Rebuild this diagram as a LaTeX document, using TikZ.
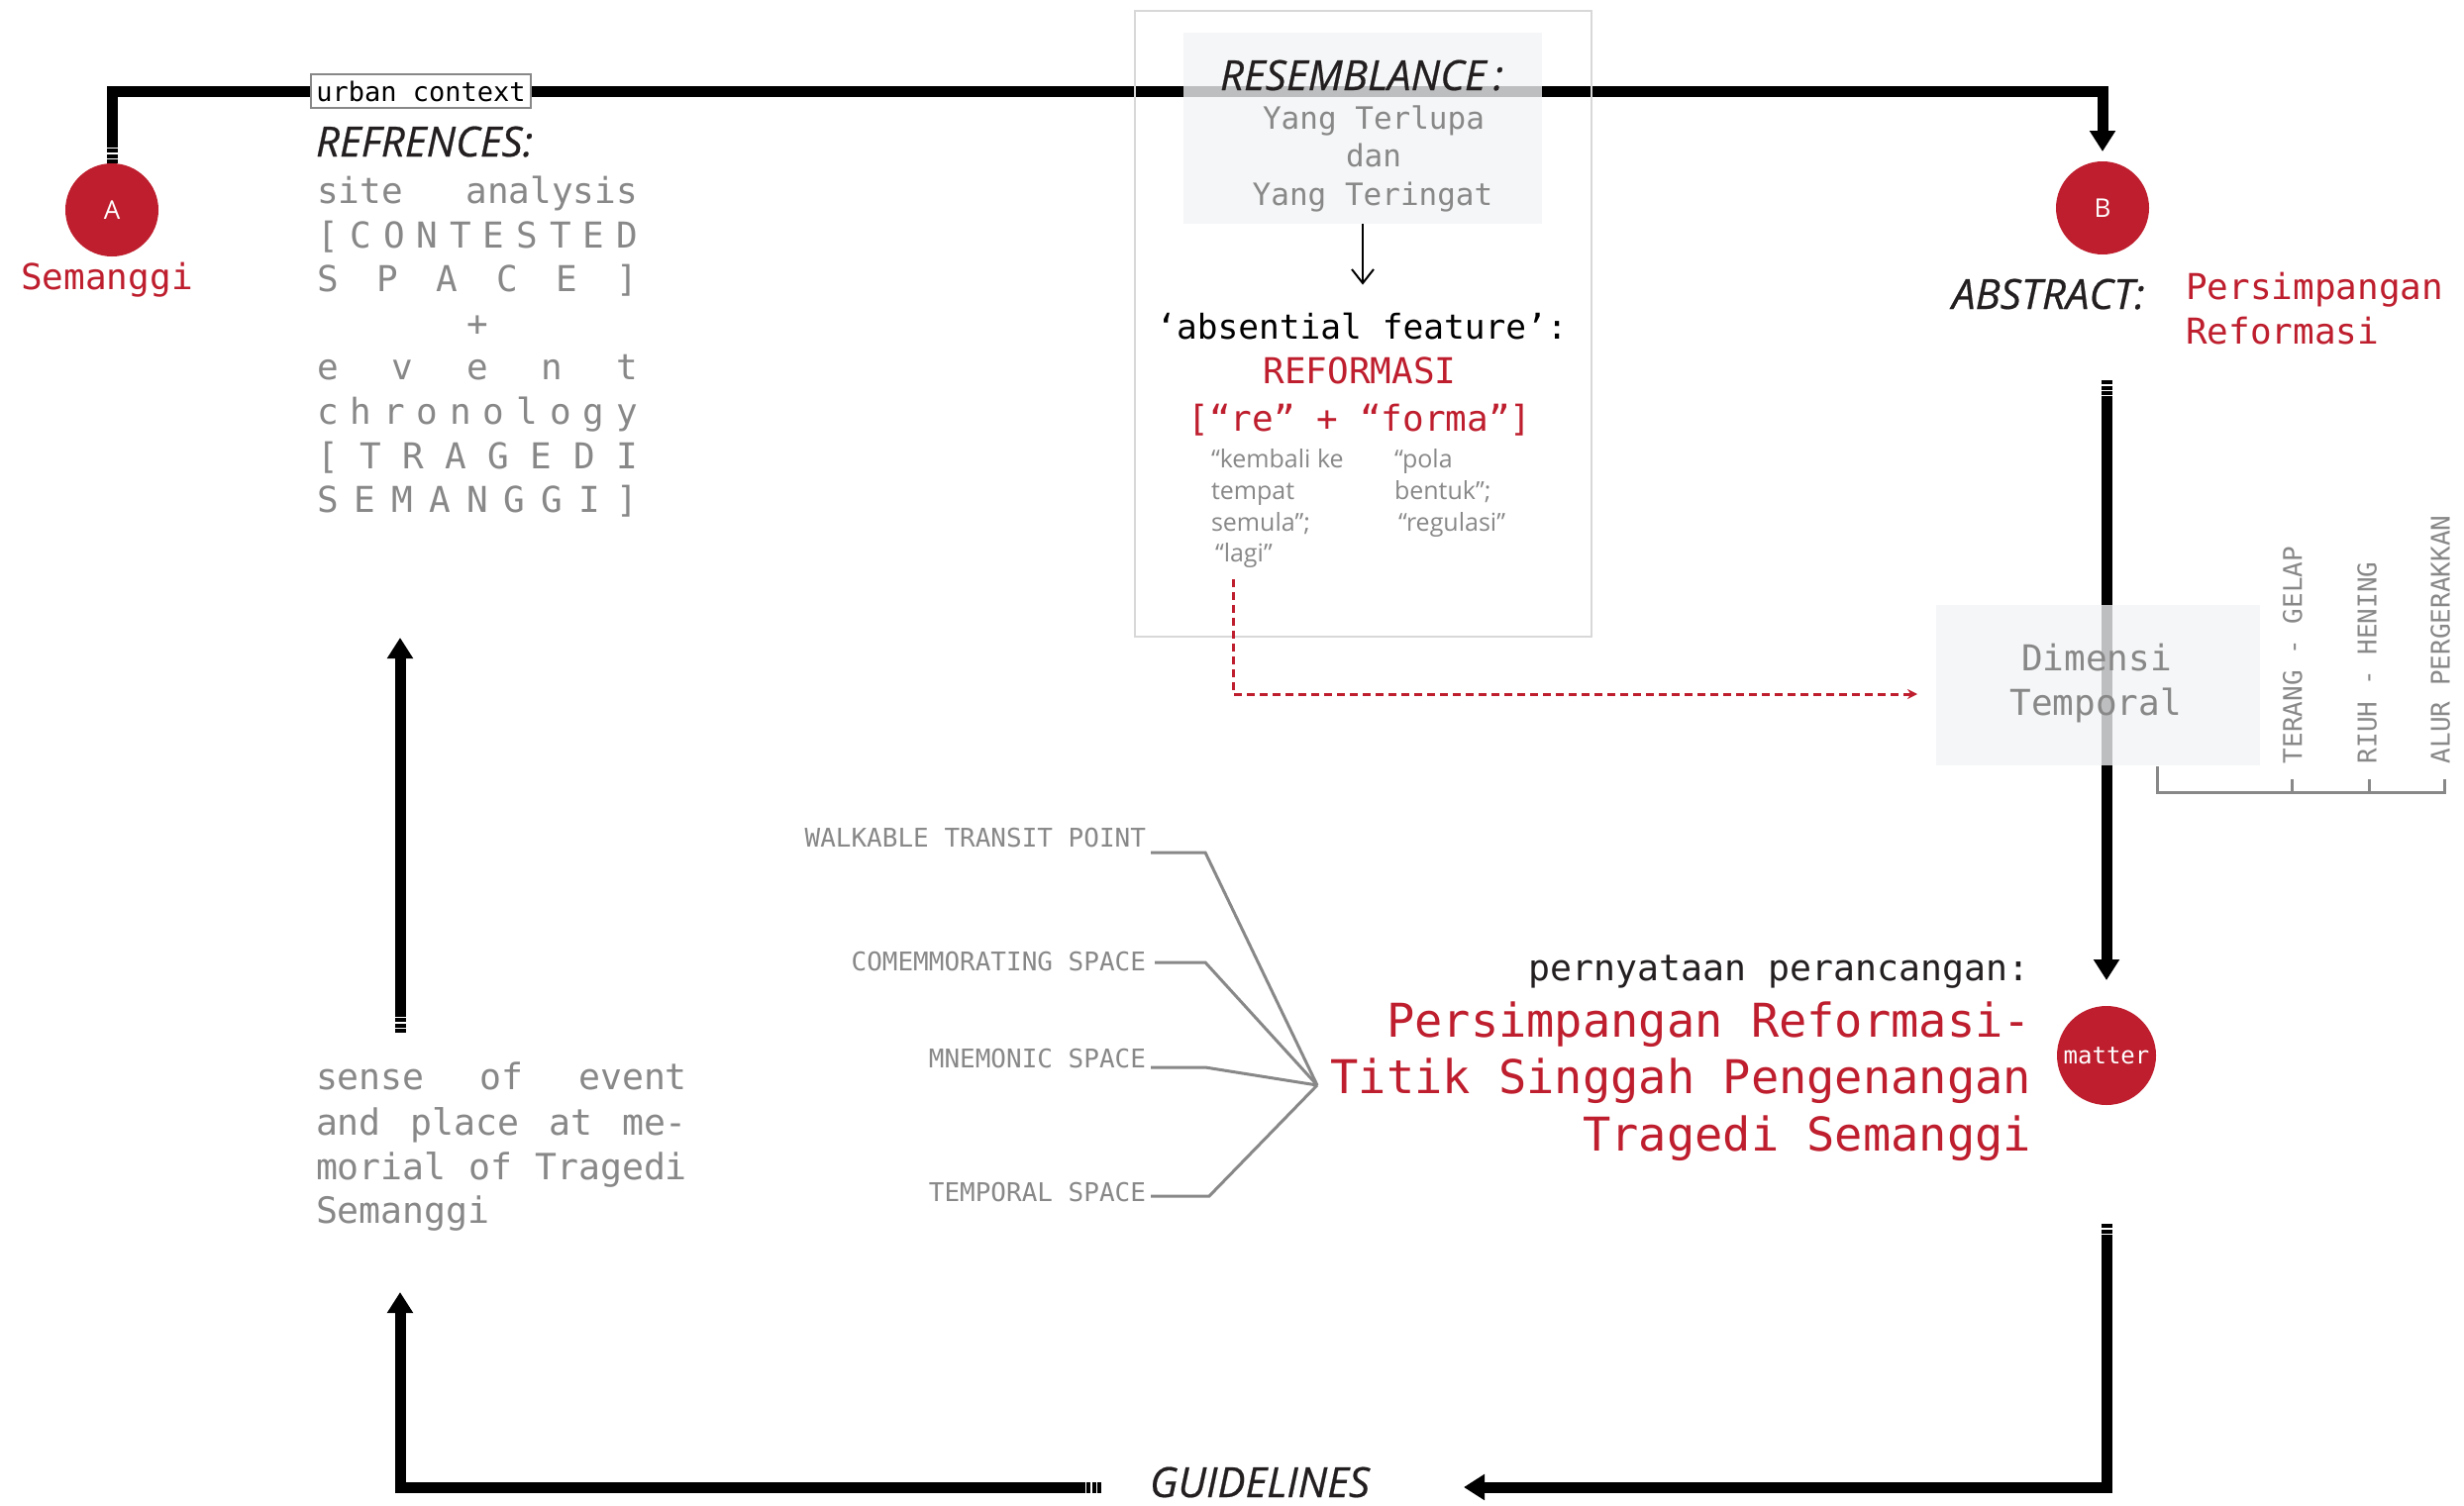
\documentclass[tikz,border=0pt]{standalone}
\usepackage{fontspec}
\setmainfont{Open Sans}
\setmonofont{DejaVu Sans Mono}
\newfontfamily\hdfont[FakeBold=0.5]{Open Sans}
\usetikzlibrary{arrows.meta}
\definecolor{cred}{RGB}{190,30,45}
\definecolor{tgray}{RGB}{136,136,136}
\definecolor{boxfill}{RGB}{243,244,245}
\definecolor{boxline}{RGB}{216,216,216}
\definecolor{dark}{RGB}{35,31,32}
\newcommand{\fsz}[1]{\fontsize{#1}{#1}\selectfont}
\begin{document}
\begin{tikzpicture}[x=1pt,y=-1pt,
  every node/.style={inner sep=0pt, outer sep=0pt},
  monotxt/.style={font=\ttfamily\fsz{36}, text=dark},
  graytxt/.style={font=\ttfamily\fsz{36}, text=tgray},
  redtxt/.style={font=\ttfamily\fsz{36}, text=cred},
  hdtxt/.style={font=\hdfont\itshape\fsz{42}, text=dark},
  smalltxt/.style={font=\fsz{25}, text=tgray, anchor=base west},
  fanlab/.style={font=\ttfamily\fsz{26}, text=tgray, anchor=base east},
  rotlab/.style={font=\ttfamily\fsz{26}, text=tgray, rotate=90, anchor=west},
  bigline/.style={line width=11pt, draw=black},
  stripeln/.style={line width=11pt, draw=black, dash pattern=on 4pt off 1.5pt},
  bigarrow/.style={-{Triangle[length=21pt,width=25pt]}},
  circmark/.style={circle, fill=cred, minimum size=94pt, text=white, font=\fsz{26}},
  fanline/.style={line width=3pt, draw=tgray},
  reddash/.style={line width=3pt, draw=cred, dash pattern=on 8pt off 5pt, -{Stealth[length=10pt,width=10pt]}},
  shadebox/.style={fill=boxfill, fill opacity=0.78, anchor=north west},
]
\fill[white] (0,0) rectangle (2488,1520);
\useasboundingbox (0,0) rectangle (2488,1520);

% ---- markers
\node[circmark] (A) at (113,212) {A};
\node[circmark] (B) at (2123,210) {B};
\node[circmark, minimum size=100pt, font=\ttfamily\fsz{24}] (M) at (2127,1066) {matter};

% ---- main thick connectors
\coordinate (aS) at (113,147);
\coordinate (tl) at (113,92);
\coordinate (tr) at (2123,92);
\draw[stripeln] (A.north) -- (aS);
\draw[bigline, bigarrow, shorten >=10pt] (aS) -- (tl) -- (tr) -- (B.north);

\coordinate (bS) at (2127,384);
\coordinate (bT) at (2127,400);
\draw[stripeln] (bS) -- (bT);
\draw[bigline, bigarrow, shorten >=26pt] (bT) -- (bT |- M.north);

\coordinate (mS) at (2127,1236);
\coordinate (mT) at (2127,1250);
\coordinate (gR) at (1478,1502);
\draw[stripeln] (mS) -- (mT);
\draw[bigline, bigarrow] (mT) |- (gR);

\coordinate (gL) at (1112,1502);
\coordinate (gLs) at (1096,1502);
\coordinate (sB) at (404,1305);
\draw[stripeln] (gL) -- (gLs);
\draw[bigline, bigarrow] (gLs) -| (sB);

\coordinate (sS) at (404,1043);
\coordinate (sT) at (404,1025);
\coordinate (rB) at (404,644);
\draw[stripeln] (sS) -- (sT);
\draw[bigline, bigarrow] (sT) -- (rB);

% ---- boxes
\node[shadebox, minimum width=362pt, minimum height=193pt] (resin) at (1195,33) {};
\node[draw=boxline, line width=2pt, minimum width=461pt, minimum height=632pt, anchor=north west] (resout) at (1146,11) {};
\node[shadebox, minimum width=327pt, minimum height=162pt] (dimbox) at (1955,611) {};

% ---- left column
\node[font=\ttfamily\fsz{27}, text=black, draw=tgray, line width=2pt, fill=white, inner xsep=5pt, minimum height=34pt] (urban) at (425,92) {urban context};
\node[redtxt, anchor=base] (sem) at (108,292) {Semanggi};
\node[hdtxt, anchor=base west] (refs) at (319,158) {REFRENCES:};
\node[graytxt, anchor=base west] (r1) at (320,205) {\hbox to 324pt{site\hfill analysis}};
\node[graytxt, anchor=base west] (r2) at (320,250) {\hbox to 324pt{[\hfill C\hfill O\hfill N\hfill T\hfill E\hfill S\hfill T\hfill E\hfill D}};
\node[graytxt, anchor=base west] (r3) at (320,294) {\hbox to 324pt{S\hfill P\hfill A\hfill C\hfill E\hfill ]}};
\node[graytxt, anchor=base] (r4) at (482,339) {+};
\node[graytxt, anchor=base west] (r5) at (320,383) {\hbox to 324pt{e\hfill v\hfill e\hfill n\hfill t}};
\node[graytxt, anchor=base west] (r6) at (320,428) {\hbox to 324pt{c\hfill h\hfill r\hfill o\hfill n\hfill o\hfill l\hfill o\hfill g\hfill y}};
\node[graytxt, anchor=base west] (r7) at (320,473) {\hbox to 324pt{[\hfill T\hfill R\hfill A\hfill G\hfill E\hfill D\hfill I}};
\node[graytxt, anchor=base west] (r8) at (320,517) {\hbox to 324pt{S\hfill E\hfill M\hfill A\hfill N\hfill G\hfill G\hfill I\hfill ]}};

\node[graytxt, font=\ttfamily\fsz{36.5}, anchor=base west] (s1) at (319,1100) {\hbox to 375pt{sense\hfill of\hfill event}};
\node[graytxt, font=\ttfamily\fsz{36.5}, anchor=base west] (s2) at (319,1146) {\hbox to 375pt{and\hfill place\hfill at\hfill me-}};
\node[graytxt, font=\ttfamily\fsz{36.5}, anchor=base west] (s3) at (319,1191) {\hbox to 375pt{morial\hfill of\hfill Tragedi}};
\node[graytxt, font=\ttfamily\fsz{36.5}, anchor=base west] (s4) at (319,1235) {Semanggi};

% ---- resemblance column
\node[hdtxt, anchor=base west] (resem) at (1232,91) {RESEMBLANCE\,:};
\node[graytxt, font=\ttfamily\fsz{31}, anchor=base] (y1) at (1387,130) {Yang Terlupa};
\node[graytxt, font=\ttfamily\fsz{31}, anchor=base] (y2) at (1387,168) {dan};
\node[graytxt, font=\ttfamily\fsz{31}, anchor=base] (y3) at (1386,207) {Yang Teringat};
\node[monotxt, font=\ttfamily\fsz{34.5}, text=black, anchor=base] (absent) at (1375,342) {‘absential feature’:};
\draw[line width=2pt, -{Straight Barb[length=14pt,width=22pt]}, shorten >=28pt] (resin.south) -- (resin.south |- absent.north);
\node[redtxt, anchor=base] (refo) at (1373,387) {REFORMASI};
\node[redtxt, anchor=base] (reforma) at (1373,435) {[“re” + “forma”]};
\node[smalltxt] (k1) at (1223,472) {“kembali ke};
\node[smalltxt] (k2) at (1223,504) {tempat};
\node[smalltxt] (k3) at (1223,536) {semula”;};
\node[smalltxt] (k4) at (1227,567) {“lagi”};
\node[smalltxt] (p1) at (1408,472) {“pola};
\node[smalltxt] (p2) at (1408,504) {bentuk”;};
\node[smalltxt] (p3) at (1412,536) {“regulasi”};
\coordinate (dS) at (1245,585);
\draw[reddash, shorten >=19pt] (dS) |- ([yshift=-9pt]dimbox.west);

% ---- right column
\node[hdtxt, anchor=base west] (abs) at (1971,312) {ABSTRACT:};
\node[redtxt, anchor=base west] (ab1) at (2207,302) {Persimpangan};
\node[redtxt, anchor=base west] (ab2) at (2207,347) {Reformasi};
\node[graytxt, anchor=base] (d1) at (2117,677) {Dimensi};
\node[graytxt, anchor=base] (d2) at (2116,722) {Temporal};
\draw[fanline] (2178,774) -- (2178,800) -- (2468,800) -- (2468,787);
\draw[fanline] (2314,787) -- (2314,800);
\draw[fanline] (2392,787) -- (2392,800);
\node[rotlab] (t1) at (2315,771) {TERANG - GELAP};
\node[rotlab] (t2) at (2390,771) {RIUH - HENING};
\node[rotlab] (t3) at (2464,771) {ALUR PERGERAKKAN};

% ---- fan
\coordinate (fanPt) at (1330,1096);
\node[fanlab] (walk) at (1157,855) {WALKABLE TRANSIT POINT};
\node[fanlab] (comm) at (1157,980) {COMEMMORATING SPACE};
\node[fanlab] (mnem) at (1157,1078) {MNEMONIC SPACE};
\node[fanlab] (temp) at (1157,1213) {TEMPORAL SPACE};
\draw[fanline] ([shift={(5pt,-6pt)}]walk.base east) -- ++(55,0) -- (fanPt);
\draw[fanline] ([shift={(9pt,8pt)}]comm.base east) -- ++(51,0) -- (fanPt);
\draw[fanline] ([shift={(5pt,0pt)}]mnem.base east) -- ++(55,0) -- (fanPt);
\draw[fanline] ([shift={(5pt,5pt)}]temp.base east) -- ++(59,0) -- (fanPt);

% ---- design statement
\node[monotxt, font=\ttfamily\fsz{36.5}, anchor=base east] (pern) at (2049,990) {pernyataan perancangan:};
\node[redtxt, font=\ttfamily\fsz{47}, anchor=base east] (st1) at (2051,1047) {Persimpangan Reformasi-};
\node[redtxt, font=\ttfamily\fsz{47}, anchor=base east] (st2) at (2051,1104) {Titik Singgah Pengenangan};
\node[redtxt, font=\ttfamily\fsz{47}, anchor=base east] (st3) at (2051,1162) {Tragedi Semanggi};

\node[hdtxt, anchor=base west] (guide) at (1161,1512) {GUIDELINES};
\end{tikzpicture}
\end{document}
